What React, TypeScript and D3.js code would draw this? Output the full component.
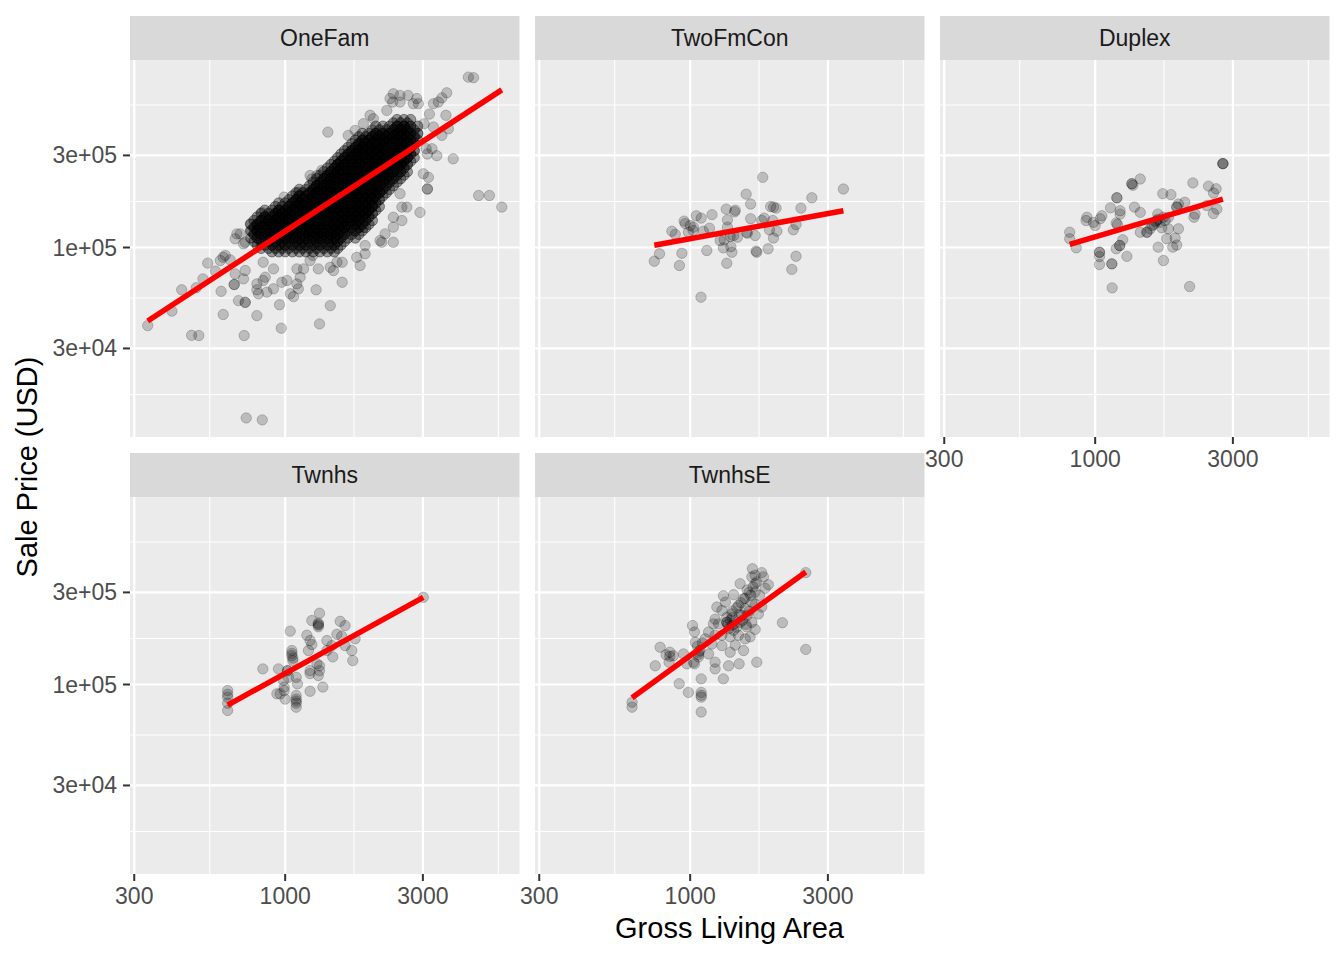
import * as d3 from "d3";

const W = 1344;
const H = 960;

const facetNames = ["OneFam", "TwoFmCon", "Duplex", "Twnhs", "TwnhsE"];
const xTickValues = [300, 1000, 3000];
const xTickLabels = ["300", "1000", "3000"];
const yTickValues = [3e4, 1e5, 3e5];
const yTickLabels = ["3e+04", "1e+05", "3e+05"];
// log breaks used for the grid (minor lines sit half way between them)
const xBreakLadder = [100, 300, 1000, 3000, 10000];
const yBreakLadder = [1e4, 3e4, 1e5, 3e5, 1e6];

// OneFam dense core, read column by column: [area, prices, houses per price]
const oneFamCore: [number, number[], number[]][] = [
  [760, [132000, 122000, 112000], [2, 3, 2]],
  [800, [144000, 132000, 122000, 112000, 103000], [2, 4, 4, 3, 2]],
  [850, [156000, 144000, 132000, 122000, 112000, 103000], [2, 4, 4, 4, 3, 2]],
  [900, [156000, 144000, 132000, 122000, 112000, 103000, 95000], [2, 4, 4, 4, 4, 3, 2]],
  [950, [170000, 156000, 144000, 132000, 122000, 112000, 103000, 95000], [2, 4, 4, 4, 4, 4, 3, 2]],
  [1000, [170000, 156000, 144000, 132000, 122000, 112000, 103000, 95000], [2, 4, 4, 4, 4, 4, 3, 2]],
  [1060, [185000, 170000, 156000, 144000, 132000, 122000, 112000, 103000, 95000], [2, 4, 4, 4, 4, 4, 4, 3, 2]],
  [1120, [200000, 185000, 170000, 156000, 144000, 132000, 122000, 112000, 103000, 95000], [2, 4, 4, 4, 4, 4, 4, 4, 3, 2]],
  [1180, [200000, 185000, 170000, 156000, 144000, 132000, 122000, 112000, 103000, 95000], [2, 4, 4, 4, 4, 4, 4, 4, 3, 2]],
  [1250, [218000, 200000, 185000, 170000, 156000, 144000, 132000, 122000, 112000, 103000, 95000], [2, 4, 4, 4, 4, 4, 4, 4, 4, 3, 2]],
  [1320, [237000, 218000, 200000, 185000, 170000, 156000, 144000, 132000, 122000, 112000, 103000, 95000], [2, 4, 4, 4, 4, 4, 4, 4, 4, 4, 3, 2]],
  [1400, [258000, 237000, 218000, 200000, 185000, 170000, 156000, 144000, 132000, 122000, 112000, 103000, 95000], [2, 4, 4, 4, 4, 4, 4, 4, 4, 4, 4, 3, 2]],
  [1480, [280000, 258000, 237000, 218000, 200000, 185000, 170000, 156000, 144000, 132000, 122000, 112000, 103000, 95000], [2, 4, 4, 4, 4, 4, 4, 4, 4, 4, 4, 4, 3, 2]],
  [1560, [305000, 280000, 258000, 237000, 218000, 200000, 185000, 170000, 156000, 144000, 132000, 122000, 112000, 103000], [2, 4, 4, 4, 4, 4, 4, 4, 4, 4, 4, 4, 3, 2]],
  [1650, [330000, 305000, 280000, 258000, 237000, 218000, 200000, 185000, 170000, 156000, 144000, 132000, 122000, 112000], [2, 4, 4, 4, 4, 4, 4, 4, 4, 4, 4, 4, 3, 2]],
  [1750, [360000, 330000, 305000, 280000, 258000, 237000, 218000, 200000, 185000, 170000, 156000, 144000, 132000, 122000, 112000], [2, 4, 4, 4, 4, 4, 4, 4, 4, 4, 4, 4, 4, 3, 2]],
  [1850, [390000, 360000, 330000, 305000, 280000, 258000, 237000, 218000, 200000, 185000, 170000, 156000, 144000, 132000, 122000], [2, 4, 4, 4, 4, 4, 4, 4, 4, 4, 4, 4, 4, 3, 2]],
  [1950, [390000, 360000, 330000, 305000, 280000, 258000, 237000, 218000, 200000, 185000, 170000, 156000, 144000, 132000], [2, 4, 4, 4, 4, 4, 4, 4, 4, 4, 4, 4, 3, 2]],
  [2060, [425000, 390000, 360000, 330000, 305000, 280000, 258000, 237000, 218000, 200000, 185000, 170000, 156000], [2, 4, 4, 4, 4, 4, 4, 4, 4, 4, 4, 3, 2]],
  [2180, [425000, 390000, 360000, 330000, 305000, 280000, 258000, 237000, 218000, 200000, 185000], [2, 4, 4, 4, 4, 4, 4, 4, 4, 3, 2]],
  [2300, [425000, 390000, 360000, 330000, 305000, 280000, 258000, 237000, 218000, 200000], [2, 4, 4, 4, 4, 4, 4, 4, 3, 2]],
  [2440, [460000, 425000, 390000, 360000, 330000, 305000, 280000, 258000, 237000, 218000], [2, 4, 4, 4, 4, 4, 4, 4, 3, 2]],
  [2580, [460000, 425000, 390000, 360000, 330000, 305000, 280000, 258000, 237000], [2, 4, 4, 4, 4, 4, 4, 3, 2]],
  [2720, [460000, 425000, 390000, 360000, 330000, 305000, 280000], [2, 3, 3, 3, 3, 3, 2]],
  [2880, [425000, 390000, 360000], [2, 3, 2]],
  // in-between columns of the same core
  [780, [138000, 127000, 117000, 107500], [2, 3, 3, 2]],
  [825, [150000, 138000, 127000, 117000, 107500, 99000], [2, 4, 4, 4, 3, 2]],
  [875, [150000, 138000, 127000, 117000, 107500, 99000], [2, 4, 4, 4, 3, 2]],
  [925, [163000, 150000, 138000, 127000, 117000, 107500, 99000], [2, 4, 4, 4, 4, 3, 2]],
  [975, [163000, 150000, 138000, 127000, 117000, 107500, 99000], [2, 4, 4, 4, 4, 3, 2]],
  [1030, [177000, 163000, 150000, 138000, 127000, 117000, 107500, 99000], [2, 4, 4, 4, 4, 4, 3, 2]],
  [1090, [192000, 177000, 163000, 150000, 138000, 127000, 117000, 107500, 99000], [2, 4, 4, 4, 4, 4, 4, 3, 2]],
  [1150, [192000, 177000, 163000, 150000, 138000, 127000, 117000, 107500, 99000], [2, 4, 4, 4, 4, 4, 4, 3, 2]],
  [1215, [209000, 192000, 177000, 163000, 150000, 138000, 127000, 117000, 107500, 99000], [2, 4, 4, 4, 4, 4, 4, 4, 3, 2]],
  [1285, [227000, 209000, 192000, 177000, 163000, 150000, 138000, 127000, 117000, 107500, 99000], [2, 4, 4, 4, 4, 4, 4, 4, 4, 3, 2]],
  [1360, [247000, 227000, 209000, 192000, 177000, 163000, 150000, 138000, 127000, 117000, 107500, 99000], [2, 4, 4, 4, 4, 4, 4, 4, 4, 4, 3, 2]],
  [1440, [269000, 247000, 227000, 209000, 192000, 177000, 163000, 150000, 138000, 127000, 117000, 107500, 99000], [2, 4, 4, 4, 4, 4, 4, 4, 4, 4, 4, 3, 2]],
  [1520, [292000, 269000, 247000, 227000, 209000, 192000, 177000, 163000, 150000, 138000, 127000, 117000, 107500, 99000], [2, 4, 4, 4, 4, 4, 4, 4, 4, 4, 4, 4, 3, 2]],
  [1605, [317000, 292000, 269000, 247000, 227000, 209000, 192000, 177000, 163000, 150000, 138000, 127000, 117000, 107500], [2, 4, 4, 4, 4, 4, 4, 4, 4, 4, 4, 4, 3, 2]],
  [1700, [345000, 317000, 292000, 269000, 247000, 227000, 209000, 192000, 177000, 163000, 150000, 138000, 127000, 117000], [2, 4, 4, 4, 4, 4, 4, 4, 4, 4, 4, 4, 3, 2]],
  [1800, [375000, 345000, 317000, 292000, 269000, 247000, 227000, 209000, 192000, 177000, 163000, 150000, 138000, 127000, 117000], [2, 4, 4, 4, 4, 4, 4, 4, 4, 4, 4, 4, 4, 3, 2]],
  [1900, [375000, 345000, 317000, 292000, 269000, 247000, 227000, 209000, 192000, 177000, 163000, 150000, 138000, 127000], [2, 4, 4, 4, 4, 4, 4, 4, 4, 4, 4, 4, 3, 2]],
  [2005, [407000, 375000, 345000, 317000, 292000, 269000, 247000, 227000, 209000, 192000, 177000, 163000, 150000, 138000], [2, 4, 4, 4, 4, 4, 4, 4, 4, 4, 4, 4, 3, 2]],
  [2120, [407000, 375000, 345000, 317000, 292000, 269000, 247000, 227000, 209000, 192000, 177000, 163000], [2, 4, 4, 4, 4, 4, 4, 4, 4, 4, 3, 2]],
  [2240, [407000, 375000, 345000, 317000, 292000, 269000, 247000, 227000, 209000, 192000], [2, 4, 4, 4, 4, 4, 4, 4, 3, 2]],
  [2370, [442000, 407000, 375000, 345000, 317000, 292000, 269000, 247000, 227000, 209000], [2, 4, 4, 4, 4, 4, 4, 4, 3, 2]],
  [2510, [442000, 407000, 375000, 345000, 317000, 292000, 269000, 247000, 227000], [2, 4, 4, 4, 4, 4, 4, 3, 2]],
  [2650, [442000, 407000, 375000, 345000, 317000, 292000, 269000, 247000], [2, 4, 4, 4, 4, 4, 3, 2]],
  [2800, [407000, 375000, 345000, 317000, 292000], [2, 3, 3, 3, 2]],
];

// OneFam houses outside the dense core: [area, price]
const oneFamOuter: [number, number][] = [
  [1406, 396000], [334, 39400], [405, 46800], [438, 60400], [492, 61900], [519, 68800], [539, 83000],
  [573, 75500], [600, 59300], [610, 45000], [474, 35100], [502, 35000], [721, 35000], [733, 13100],
  [833, 12800], [666, 64300], [666, 64300], [689, 53100], [727, 52000], [727, 52000], [798, 44400],
  [956, 50500], [969, 38200], [1315, 40200], [1280, 60400], [1069, 55700], [1041, 57600], [798, 60400],
  [808, 57600], [864, 58700], [911, 61100], [596, 85600], [610, 89000], [645, 86300], [671, 73000],
  [717, 68800], [727, 76000], [671, 111000], [699, 117700], [727, 106500], [757, 132600], [839, 67500],
  [853, 70200], [974, 66100], [1014, 67500], [1098, 64800], [1127, 70200], [1111, 61100], [1158, 77500],
  [1220, 85600], [1303, 77500], [1246, 91000], [830, 152000], [992, 182500], [1433, 50000], [1220, 236000],
  [1237, 226500], [1339, 251000], [2370, 626000], [2500, 614000], [2665, 614000], [2857, 591000],
  [2309, 591000], [2894, 556000], [2250, 513000], [1969, 484000], [2021, 465000], [1866, 438000],
  [1747, 404000], [1654, 381000], [3264, 556000], [3160, 491000], [3030, 438000], [3264, 421000],
  [3110, 305000], [3352, 299000], [3010, 241000], [3135, 231000], [3110, 201000], [3110, 201000],
  [2932, 152000], [2640, 162000], [2537, 162000], [2500, 190000], [2370, 143500], [2537, 138000],
  [2370, 127500], [2219, 117700], [2132, 108700], [2370, 106500], [1866, 127500], [1892, 102400],
  [1892, 92800], [1770, 89000], [1818, 80700], [1576, 83900], [1576, 66100], [1470, 76000], [1098, 77500],
  [911, 77500], [839, 83900], [798, 64800], [620, 91000], [680, 117700], [717, 104500], [1111, 193000],
  [1288, 236000], [4312, 763000], [4494, 758000], [3630, 633000], [3490, 596000], [3395, 567000],
  [3606, 484000], [3490, 381000], [3676, 412000], [3080, 325000], [3225, 325000], [3820, 288000],
  [4680, 186000], [5100, 186000], [5630, 162000], [1511, 83900], [1433, 79000], [2162, 106500],
  [2500, 567000], [2359, 567000], [2778, 556000],
];

const twoFmCon: [number, number][] = [
  [1785, 231000], [3395, 201000], [1563, 189000], [2640, 181000], [1620, 168000], [1900, 163000],
  [1945, 162000], [1985, 160000], [2420, 160000], [1333, 158000], [1433, 156000], [1425, 153000],
  [1190, 148000], [1050, 146000], [1092, 142000], [953, 137000], [1620, 141000], [1805, 142000],
  [1933, 138000], [1346, 139000], [961, 133000], [1000, 130000], [1027, 127500], [1166, 126000],
  [864, 121500], [888, 117000], [986, 120000], [1024, 122500], [1111, 121500], [1346, 127500],
  [1578, 118600], [1679, 115400], [1882, 123500], [1997, 121500], [1943, 112000], [2277, 123500],
  [2327, 131500], [1270, 108700], [1311, 109600], [1376, 114000], [1414, 115400], [1458, 113000],
  [1303, 99600], [1384, 101000], [1395, 94500], [1142, 96500], [936, 93400], [783, 92800],
  [751, 84900], [918, 80700], [1339, 82900], [1692, 95700], [1701, 94500], [1862, 98500],
  [2327, 90100], [2250, 77000], [1090, 55300], [1770, 138000], [1570, 120000],
];

const duplex: [number, number][] = [
  [2770, 272000], [2770, 272000], [2770, 272000], [2180, 216000], [2470, 208000], [2625, 201500],
  [2570, 191500], [1433, 226500], [1340, 214000], [1340, 214000], [1351, 210000], [1715, 190000],
  [1830, 188000], [1189, 181000], [1189, 181000], [2044, 171500], [1943, 168000], [1917, 162000],
  [1917, 162000], [1130, 160500], [1220, 155000], [1220, 149000], [1368, 162000], [1433, 152000],
  [1055, 146000], [936, 143500], [930, 138000], [986, 135000], [1000, 130000], [1183, 134000],
  [1648, 149000], [1724, 143500], [1635, 138000], [1679, 135000], [1747, 138000], [1794, 143500],
  [1576, 130000], [1511, 120000], [1511, 120000], [1551, 125000], [1701, 126500], [1794, 125000],
  [1943, 125000], [2200, 143500], [2219, 149000], [2568, 150000], [2640, 158000], [2437, 165000],
  [816, 120000], [816, 111000], [860, 99600], [1433, 120000], [1770, 111000], [1892, 112000],
  [1857, 100400], [1917, 103000], [1653, 100400], [1246, 109600], [1216, 102400], [1216, 102400],
  [1183, 98500], [1288, 90000], [1035, 94500], [1035, 94500], [1035, 89800], [1035, 81700],
  [1142, 82300], [1142, 82300], [1724, 85600], [1145, 61800], [2124, 62800], [1195, 131500],
  [1041, 141000], [1620, 136000], [1650, 140000], [1600, 132000],
];

const twnhs: [number, number][] = [
  [3010, 283000], [1315, 234000], [1237, 214500], [1303, 208000], [1303, 205000], [1303, 203000],
  [1303, 199000], [1551, 212500], [1613, 202000], [1041, 189000], [1511, 182000], [1570, 178000],
  [1395, 169000], [1451, 159000], [1613, 159000], [1747, 172500], [1220, 169000], [1237, 161000],
  [1204, 150000], [1462, 139000], [1701, 150000], [1715, 133000], [1055, 150000], [1055, 145000],
  [1055, 141000], [1063, 137000], [1063, 133000], [1019, 118000], [1019, 118000], [948, 120500],
  [837, 120500], [1220, 118000], [1220, 114000], [1315, 118000], [1315, 125000], [1303, 111300],
  [1092, 109000], [1103, 100800], [986, 105000], [992, 97000], [992, 93000], [961, 89500],
  [1000, 84000], [1092, 87700], [1092, 84000], [1092, 82000], [1092, 80000], [1092, 76300],
  [1220, 92300], [1351, 97000], [632, 93100], [632, 89000], [632, 86000], [632, 80000],
  [632, 73400], [936, 89500], [1027, 109000], [1288, 128000], [1395, 150000], [1189, 180000],
];

const twnhsE: [number, number][] = [
  [2515, 380000], [1643, 398000], [1770, 380000], [1679, 368000], [1794, 361000], [1866, 329000],
  [1490, 333000], [1679, 333000], [1576, 309000], [1679, 301000], [1303, 288000], [1414, 292000],
  [1531, 278000], [1635, 267000], [1770, 252000], [1470, 257000], [1551, 247000], [1724, 232000],
  [1288, 242000], [1220, 218000], [1339, 223000], [1339, 210000], [1339, 210000], [1395, 202000],
  [1490, 210000], [1570, 199000], [1679, 193000], [2087, 209000], [1019, 202000], [1035, 187000],
  [1158, 187000], [1220, 180000], [1288, 180000], [1376, 176500], [1470, 180000], [1103, 164000],
  [1189, 162000], [1288, 159000], [1376, 147000], [1531, 150000], [1433, 160000], [1069, 147000],
  [1069, 143000], [1069, 139000], [1158, 144000], [1220, 130500], [1358, 125000], [1478, 128000],
  [1701, 130500], [2515, 152000], [850, 147000], [850, 140000], [845, 130500], [787, 156000],
  [757, 125000], [948, 144000], [974, 128000], [1035, 128000], [1220, 120500], [1303, 107000],
  [916, 101000], [986, 91000], [1092, 107000], [1092, 91000], [1092, 88000], [1092, 86000],
  [1092, 72000], [629, 81000], [629, 76300], [1204, 206000], [1254, 206000], [1237, 252000],
  [1395, 232000], [1576, 228000], [1511, 228000], [1041, 165500], [1127, 172500], [825, 142500],
  [874, 141000], [1027, 130500], [1414, 191000], [1551, 172500], [1613, 176500], [1635, 210000],
  [1325, 267000], [1818, 315000], [1635, 361000], [1376, 215000], [1400, 222000], [1420, 205000],
  [1450, 198000], [1360, 195000], [1060, 158000], [1080, 150000], [1400, 240000], [1450, 250000],
  [1500, 265000], [1550, 280000], [1600, 300000], [1650, 320000], [1700, 340000], [1480, 230000],
  [1520, 215000], [1600, 240000], [1680, 260000], [1740, 290000], [1350, 205000], [1560, 205000],
  [1620, 290000],
];

type House = { area: number; price: number };

const oneFamHouses: House[] = [
  ...oneFamCore.flatMap(([area, prices, counts]) =>
    prices.flatMap((price, i) => d3.range(counts[i] ?? 4).map(() => ({ area, price })))
  ),
  ...oneFamOuter.map(([area, price]) => ({ area, price })),
];
const toHouses = (rows: [number, number][]) => rows.map(([area, price]) => ({ area, price }));
const housesByType: House[][] = [
  oneFamHouses,
  toHouses(twoFmCon),
  toHouses(duplex),
  toHouses(twnhs),
  toHouses(twnhsE),
];

// layout
const colLeft = [130, 535, 940];
const rowTop = [60, 497];
const panelW = 389.5;
const panelH = 377;
const stripH = 44;
const slots = [
  [0, 0],
  [0, 1],
  [0, 2],
  [1, 0],
  [1, 1],
];

const allHouses = housesByType.flat();
function logDomain(values: number[]): [number, number] {
  const lo = Math.log10(d3.min(values)!);
  const hi = Math.log10(d3.max(values)!);
  const pad = (hi - lo) * 0.05;
  return [10 ** (lo - pad), 10 ** (hi + pad)];
}
const x = d3.scaleLog().domain(logDomain(allHouses.map((d) => d.area))).range([0, panelW]);
const y = d3.scaleLog().domain(logDomain(allHouses.map((d) => d.price))).range([panelH, 0]);

function minorBreaks(ladder: number[], scale: d3.ScaleLogarithmic<number, number>) {
  const [a, b] = scale.domain();
  return d3
    .pairs(ladder)
    .map(([p, q]) => Math.sqrt(p * q))
    .filter((v) => v >= a && v <= b);
}
function majorBreaks(ladder: number[], scale: d3.ScaleLogarithmic<number, number>) {
  const [a, b] = scale.domain();
  return ladder.filter((v) => v >= a && v <= b);
}

// straight line fit on the log-log scale, like geom_smooth(method = "lm")
function fitLine(houses: House[]) {
  const lx = houses.map((d) => Math.log10(d.area));
  const ly = houses.map((d) => Math.log10(d.price));
  const mx = d3.mean(lx)!;
  const my = d3.mean(ly)!;
  let sxy = 0;
  let sxx = 0;
  lx.forEach((v, i) => {
    sxy += (v - mx) * (ly[i] - my);
    sxx += (v - mx) * (v - mx);
  });
  const slope = sxy / sxx;
  const at = (a: number) => 10 ** (my + slope * (Math.log10(a) - mx));
  const [x0, x1] = d3.extent(houses, (d) => d.area) as [number, number];
  return [
    { area: x0, price: at(x0) },
    { area: x1, price: at(x1) },
  ];
}

const font = "'Liberation Sans', Arial, Helvetica, sans-serif";

export default function App() {
  const xMinor = minorBreaks(xBreakLadder, x);
  const xMajor = majorBreaks(xBreakLadder, x);
  const yMinor = minorBreaks(yBreakLadder, y);
  const yMajor = majorBreaks(yBreakLadder, y);
  const line = d3
    .line<House>()
    .x((d) => x(d.area))
    .y((d) => y(d.price));

  return (
    <svg
      width={W}
      height={H}
      style={{ position: "absolute", left: 0, top: 0 }}
      fontFamily={font}
    >
      <rect width={W} height={H} fill="#FFFFFF" />
      {facetNames.map((name, fi) => {
        const [row, col] = slots[fi];
        const showX = !slots.some(([r, c]) => r === row + 1 && c === col);
        const showY = col === 0;
        const houses = housesByType[fi];
        const fit = fitLine(houses);
        return (
          <g key={name} transform={`translate(${colLeft[col]},${rowTop[row]})`}>
            <rect x={0} y={-stripH} width={panelW} height={stripH} fill="#D9D9D9" />
            <text
              x={panelW / 2}
              y={-stripH / 2 + 8}
              textAnchor="middle"
              fontSize={23}
              fill="#1A1A1A"
            >
              {name}
            </text>
            <rect width={panelW} height={panelH} fill="#EBEBEB" />
            {xMinor.map((v) => (
              <line key={"xm" + v} x1={x(v)} x2={x(v)} y1={0} y2={panelH} stroke="#FFFFFF" strokeWidth={1.1} />
            ))}
            {yMinor.map((v) => (
              <line key={"ym" + v} x1={0} x2={panelW} y1={y(v)} y2={y(v)} stroke="#FFFFFF" strokeWidth={1.1} />
            ))}
            {xMajor.map((v) => (
              <line key={"xM" + v} x1={x(v)} x2={x(v)} y1={0} y2={panelH} stroke="#FFFFFF" strokeWidth={2.2} />
            ))}
            {yMajor.map((v) => (
              <line key={"yM" + v} x1={0} x2={panelW} y1={y(v)} y2={y(v)} stroke="#FFFFFF" strokeWidth={2.2} />
            ))}
            <g>
              {houses.map((d, i) => (
                <circle
                  key={i}
                  cx={x(d.area)}
                  cy={y(d.price)}
                  r={5.2}
                  fill="#000000"
                  fillOpacity={0.2}
                  stroke="#000000"
                  strokeOpacity={0.2}
                  strokeWidth={1}
                />
              ))}
            </g>
            <path d={line(fit) ?? ""} fill="none" stroke="#FF0000" strokeWidth={5.5} />
            {showX &&
              xTickValues.map((v, i) => (
                <g key={"xt" + v} transform={`translate(${x(v)},${panelH})`}>
                  <line y1={0} y2={7} stroke="#333333" strokeWidth={2} />
                  <text y={29.5} textAnchor="middle" fontSize={23} fill="#4D4D4D">
                    {xTickLabels[i]}
                  </text>
                </g>
              ))}
            {showY &&
              yTickValues.map((v, i) => (
                <g key={"yt" + v} transform={`translate(0,${y(v)})`}>
                  <line x1={-7} x2={0} stroke="#333333" strokeWidth={2} />
                  <text x={-13} y={8} textAnchor="end" fontSize={23} fill="#4D4D4D">
                    {yTickLabels[i]}
                  </text>
                </g>
              ))}
          </g>
        );
      })}
      <text x={729.5} y={938} textAnchor="middle" fontSize={29} fill="#000000">
        Gross Living Area
      </text>
      <text
        transform="translate(37,467) rotate(-90)"
        textAnchor="middle"
        fontSize={29}
        fill="#000000"
      >
        Sale Price (USD)
      </text>
    </svg>
  );
}
